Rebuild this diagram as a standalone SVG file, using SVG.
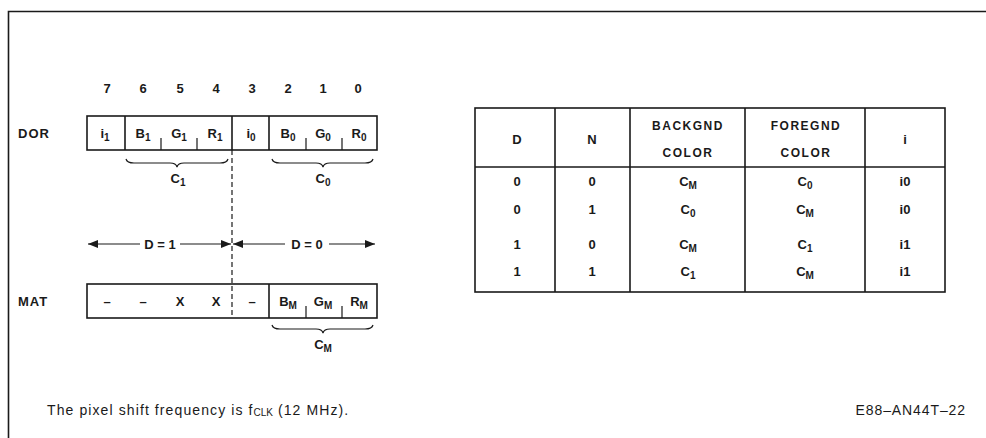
<svg xmlns="http://www.w3.org/2000/svg" width="986" height="438" viewBox="0 0 986 438">
<style>
text{font-family:"Liberation Sans",Arial,sans-serif;font-weight:bold;fill:#1a1a1a;font-size:13px}
.c{text-anchor:middle}
.ln{stroke:#1a1a1a;stroke-width:1.6;fill:none}
.thin{stroke:#1a1a1a;stroke-width:1.2;fill:none}
.lbl{font-size:13px;letter-spacing:1px}
.sub{font-size:10px}
.hd{font-size:12px;letter-spacing:1.5px}
.ft{font-weight:normal;font-size:14px;letter-spacing:1.1px}
.ft2{font-weight:normal;font-size:14px;letter-spacing:0.9px}
.fsub{font-size:10px;letter-spacing:0}
</style>
<defs>
<marker id="ah" viewBox="0 0 10 8" refX="10" refY="4" markerWidth="11" markerHeight="8" markerUnits="userSpaceOnUse" orient="auto-start-reverse">
<path d="M0,0 L10,4 L0,8 Z" fill="#1a1a1a"/>
</marker>
</defs>
<rect width="986" height="438" fill="#fff"/>
<g id="frame"><path class="ln" d="M8.5,438 V11.5 H986" stroke-width="2"/></g>

<g id="bit-numbers">
<text class="c" x="107" y="93">7</text><text class="c" x="143" y="93">6</text><text class="c" x="180" y="93">5</text><text class="c" x="216" y="93">4</text>
<text class="c" x="252" y="93">3</text><text class="c" x="288" y="93">2</text><text class="c" x="323" y="93">1</text><text class="c" x="358" y="93">0</text>
</g>

<g id="dor-register">
<text class="lbl" x="18" y="138">DOR</text>
<rect class="ln" x="87" y="116" width="290" height="34"/>
<path class="ln" d="M125,116V150M232,116V150M269,116V150"/>
<path class="thin" d="M161,138V150M197,138V150M306,138V150M342,138V150"/>
<text class="c" x="105" y="138">i<tspan class="sub" dy="3">1</tspan></text>
<text class="c" x="143" y="138">B<tspan class="sub" dy="3">1</tspan></text>
<text class="c" x="179" y="138">G<tspan class="sub" dy="3">1</tspan></text>
<text class="c" x="215" y="138">R<tspan class="sub" dy="3">1</tspan></text>
<text class="c" x="251" y="138">i<tspan class="sub" dy="3">0</tspan></text>
<text class="c" x="288" y="138">B<tspan class="sub" dy="3">0</tspan></text>
<text class="c" x="323" y="138">G<tspan class="sub" dy="3">0</tspan></text>
<text class="c" x="359" y="138">R<tspan class="sub" dy="3">0</tspan></text>
</g>

<g id="c1-brace">
<path class="thin" d="M126,159 Q127,163 134,163 L170,163 Q176,163 177,167 Q178,163 184,163 L220,163 Q227,163 228,159"/>
<text class="c" x="178" y="183">C<tspan class="sub" dy="3">1</tspan></text>
</g>
<g id="c0-brace">
<path class="thin" d="M272,159 Q273,163 280,163 L316,163 Q322,163 323,167 Q324,163 330,163 L365,163 Q372,163 373,159"/>
<text class="c" x="323" y="183">C<tspan class="sub" dy="3">0</tspan></text>
</g>

<g id="mat-register">
<text class="lbl" x="18" y="306">MAT</text>
<rect class="ln" x="87" y="284" width="290" height="34"/>
<path class="ln" d="M269,284V318"/>
<path class="thin" d="M306,306V318M342,306V318"/>
<text class="c" x="107" y="306">–</text>
<text class="c" x="143" y="306">–</text>
<text class="c" x="180" y="306">X</text>
<text class="c" x="216" y="306">X</text>
<text class="c" x="252" y="306">–</text>
<text class="c" x="288" y="306">B<tspan class="sub" dy="3">M</tspan></text>
<text class="c" x="323" y="306">G<tspan class="sub" dy="3">M</tspan></text>
<text class="c" x="359" y="306">R<tspan class="sub" dy="3">M</tspan></text>
</g>

<g id="cm-brace">
<path class="thin" d="M272,325 Q273,329 280,329 L316,329 Q322,329 323,333 Q324,329 330,329 L365,329 Q372,329 373,325"/>
<text class="c" x="323" y="349">C<tspan class="sub" dy="3">M</tspan></text>
</g>

<g id="connectors">
<path class="thin" d="M232,150V318" stroke-dasharray="5,3"/>
<path class="thin" d="M140,244H88" marker-end="url(#ah)"/>
<path class="thin" d="M180,244H231" marker-end="url(#ah)"/>
<path class="thin" d="M285,244H233" marker-end="url(#ah)"/>
<path class="thin" d="M329,244H375" marker-end="url(#ah)"/>
</g>
<g id="d-labels">
<text class="c" x="160" y="249">D = 1</text>
<text class="c" x="307" y="249">D = 0</text>
</g>

<g id="color-table">
<rect class="ln" x="475" y="108" width="470" height="184"/>
<path class="ln" d="M475,167H945M555,108V292M630,108V292M745,108V292M865,108V292"/>
<text class="c" x="517" y="144">D</text>
<text class="c" x="592" y="144">N</text>
<text class="c hd" x="688" y="130">BACKGND</text>
<text class="c hd" x="688" y="157">COLOR</text>
<text class="c hd" x="806" y="130">FOREGND</text>
<text class="c hd" x="806" y="157">COLOR</text>
<text class="c" x="905" y="144">i</text>

<text class="c" x="517" y="186">0</text><text class="c" x="592" y="186">0</text>
<text class="c" x="688" y="186">C<tspan class="sub" dy="3">M</tspan></text>
<text class="c" x="805" y="186">C<tspan class="sub" dy="3">0</tspan></text>
<text class="c" x="905" y="186">i0</text>

<text class="c" x="517" y="214">0</text><text class="c" x="592" y="214">1</text>
<text class="c" x="688" y="214">C<tspan class="sub" dy="3">0</tspan></text>
<text class="c" x="805" y="214">C<tspan class="sub" dy="3">M</tspan></text>
<text class="c" x="905" y="214">i0</text>

<text class="c" x="517" y="249">1</text><text class="c" x="592" y="249">0</text>
<text class="c" x="688" y="249">C<tspan class="sub" dy="3">M</tspan></text>
<text class="c" x="805" y="249">C<tspan class="sub" dy="3">1</tspan></text>
<text class="c" x="905" y="249">i1</text>

<text class="c" x="517" y="276">1</text><text class="c" x="592" y="276">1</text>
<text class="c" x="688" y="276">C<tspan class="sub" dy="3">1</tspan></text>
<text class="c" x="805" y="276">C<tspan class="sub" dy="3">M</tspan></text>
<text class="c" x="905" y="276">i1</text>
</g>

<g id="footer">
<text class="ft" x="47" y="415">The pixel shift frequency is f<tspan class="fsub" dy="1">CLK</tspan><tspan dy="-1"> (12 MHz).</tspan></text>
<text class="ft2" x="966" y="415" text-anchor="end">E88–AN44T–22</text>
</g>
</svg>
